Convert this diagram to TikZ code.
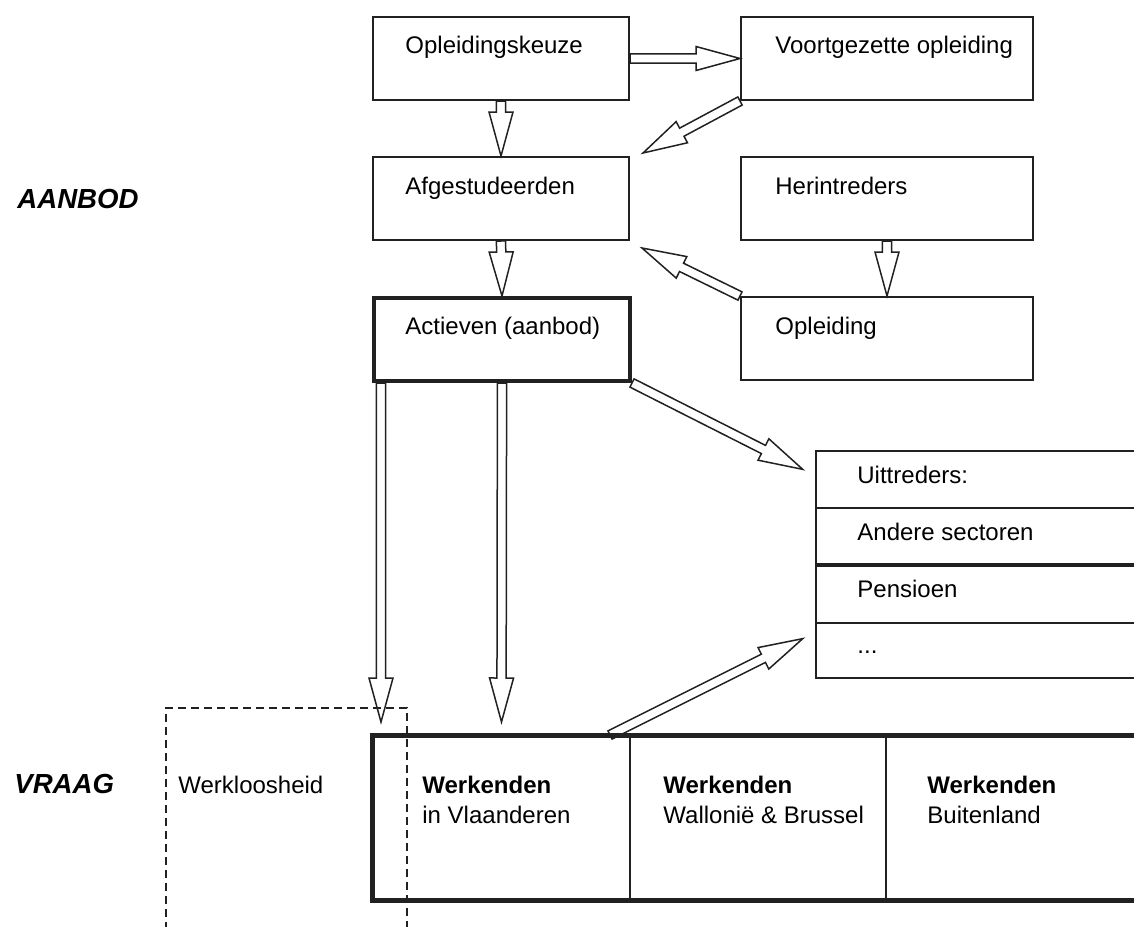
\documentclass[tikz,border=0pt]{standalone}
\usepackage{fontspec}
\setmainfont{Liberation Sans}
\usetikzlibrary{calc}
\definecolor{lineColor}{gray}{0.13}
\tikzset{
  box/.style={draw=lineColor, line width=1pt, anchor=north west, inner sep=0pt,
    minimum width=128pt, minimum height=41.5pt},
  widebox/.style={box, minimum width=146pt},
  thickbox/.style={box, line width=2pt},
  row/.style={draw=lineColor, line width=1pt, anchor=north west, inner sep=0pt, minimum width=165pt},
  cell/.style={draw=lineColor, line width=1pt, anchor=north west, inner sep=0pt, minimum height=81.5pt},
  dashbox/.style={draw=lineColor, line width=0.8pt, dash pattern=on 4pt off 2.5pt,
    anchor=north west, inner sep=0pt},
  lbl/.style={anchor=base west, inner sep=0pt, font=\fontsize{12}{14}\selectfont},
  boldlbl/.style={lbl, font=\fontsize{12}{14}\selectfont\bfseries},
  side/.style={anchor=base west, inner sep=0pt, font=\fontsize{13.8}{16}\selectfont\bfseries\itshape},
  flowline/.style={draw=lineColor, line width=0.75pt, line join=miter},
}
% hollow block arrow from #1 to #2
\newcommand\flow[2]{%
  \path[flowline] let \p1=(#1), \p2=(#2),
      \n1={veclen(\x2-\x1,\y2-\y1)}, \n2={atan2(\y2-\y1,\x2-\x1)} in
    [shift={(\p1)}, rotate=\n2]
    (0pt,2.3pt) -- ({\n1-22pt},2.3pt) -- ({\n1-22pt},6pt) -- ({\n1*1pt},0pt)
    -- ({\n1-22pt},-6pt) -- ({\n1-22pt},-2.3pt) -- (0pt,-2.3pt) -- cycle;}
\begin{document}
\begin{tikzpicture}[x=0.5pt,y=-0.5pt]
\useasboundingbox (0,0) rectangle (1134,926);
\clip (0,0) rectangle (1134,926);

% side labels
\node[side] (aanbod) at (17,208) {AANBOD};
\node[side] (vraag) at (14,793) {VRAAG};

% supply boxes
\node[box] (keuze) at (372,16) {};
\node[widebox] (voortgez) at (740,16) {};
\node[box] (afgest) at (372,156) {};
\node[widebox] (herin) at (740,156) {};
\node[thickbox] (actief) at (372,296) {};
\node[widebox] (opleid) at (740,296) {};

\node[lbl] (keuzeT) at ([shift={(33,37)}]keuze.north west) {Opleidingskeuze};
\node[lbl] (voortgezT) at ([shift={(35,37)}]voortgez.north west) {Voortgezette opleiding};
\node[lbl] (afgestT) at ([shift={(33,38)}]afgest.north west) {Afgestudeerden};
\node[lbl] (herinT) at ([shift={(35,38)}]herin.north west) {Herintreders};
\node[lbl] (actiefT) at ([shift={(33,38)}]actief.north west) {Actieven (aanbod)};
\node[lbl] (opleidT) at ([shift={(35,38)}]opleid.north west) {Opleiding};

% leavers
\node[row, minimum height=28.5pt] (uit) at (815,450) {};
\node[row, minimum height=28pt] (andere) at (815,507) {};
\node[row, minimum height=29.5pt] (pens) at (815,563) {};
\node[row, minimum height=27.5pt] (dots) at (815,622) {};
\draw[lineColor, line width=1.5pt] (andere.south west) -- (andere.south east);

\node[lbl] (uitT) at ([shift={(42,33)}]uit.north west) {Uittreders:};
\node[lbl] (andereT) at ([shift={(42,33)}]andere.north west) {Andere sectoren};
\node[lbl] (pensT) at ([shift={(42,34)}]pens.north west) {Pensioen};
\node[lbl] (dotsT) at ([shift={(42,31)}]dots.north west) {...};

% demand
\node[cell, minimum width=128.5pt] (vl) at (372,735) {};
\node[cell, minimum width=128pt] (wal) at (629,735) {};
\node[cell, minimum width=132.5pt] (bui) at (885,735) {};
\draw[lineColor, line width=2.5pt] (vl.north west) rectangle (bui.south east);
\node[dashbox, minimum width=120.5pt, minimum height=120pt] (werkl) at (165,707) {};

\node[lbl] (werklT) at ([shift={(13,86)}]werkl.north west) {Werkloosheid};
\node[boldlbl] (vlT) at ([shift={(50,58)}]vl.north west) {Werkenden};
\node[lbl] (vlS) at ([shift={(0,30)}]vlT.base west) {in Vlaanderen};
\node[boldlbl] (walT) at ([shift={(34,58)}]wal.north west) {Werkenden};
\node[lbl] (walS) at ([shift={(0,30)}]walT.base west) {Walloni\"e \& Brussel};
\node[boldlbl] (buiT) at ([shift={(42,58)}]bui.north west) {Werkenden};
\node[lbl] (buiS) at ([shift={(0,30)}]buiT.base west) {Buitenland};

% flows
\coordinate (afgNE) at ([shift={(13,-3)}]afgest.north east);
\coordinate (afgSE) at ([shift={(12,7)}]afgest.south east);
\coordinate (uitIn) at ([shift={(-12,-10)}]uit.west);
\coordinate (actL) at ([shift={(9,0)}]actief.south west);
\coordinate (werklIn) at ([shift={(9,-13)}]vl.north west);
\coordinate (vlIn) at ([shift={(0,-13)}]vl.north);
\coordinate (vlOut) at ([shift={(-21,0)}]vl.north east);
\coordinate (dotsIn) at ([shift={(-12,-12)}]dots.west);

\flow{keuze.east}{voortgez.west}
\flow{keuze.south}{afgest.north}
\flow{voortgez.south west}{afgNE}
\flow{afgest.south}{actief.north}
\flow{herin.south}{opleid.north}
\flow{opleid.north west}{afgSE}
\flow{actief.south east}{uitIn}
\flow{actL}{werklIn}
\flow{actief.south}{vlIn}
\flow{vlOut}{dotsIn}
\end{tikzpicture}
\end{document}
